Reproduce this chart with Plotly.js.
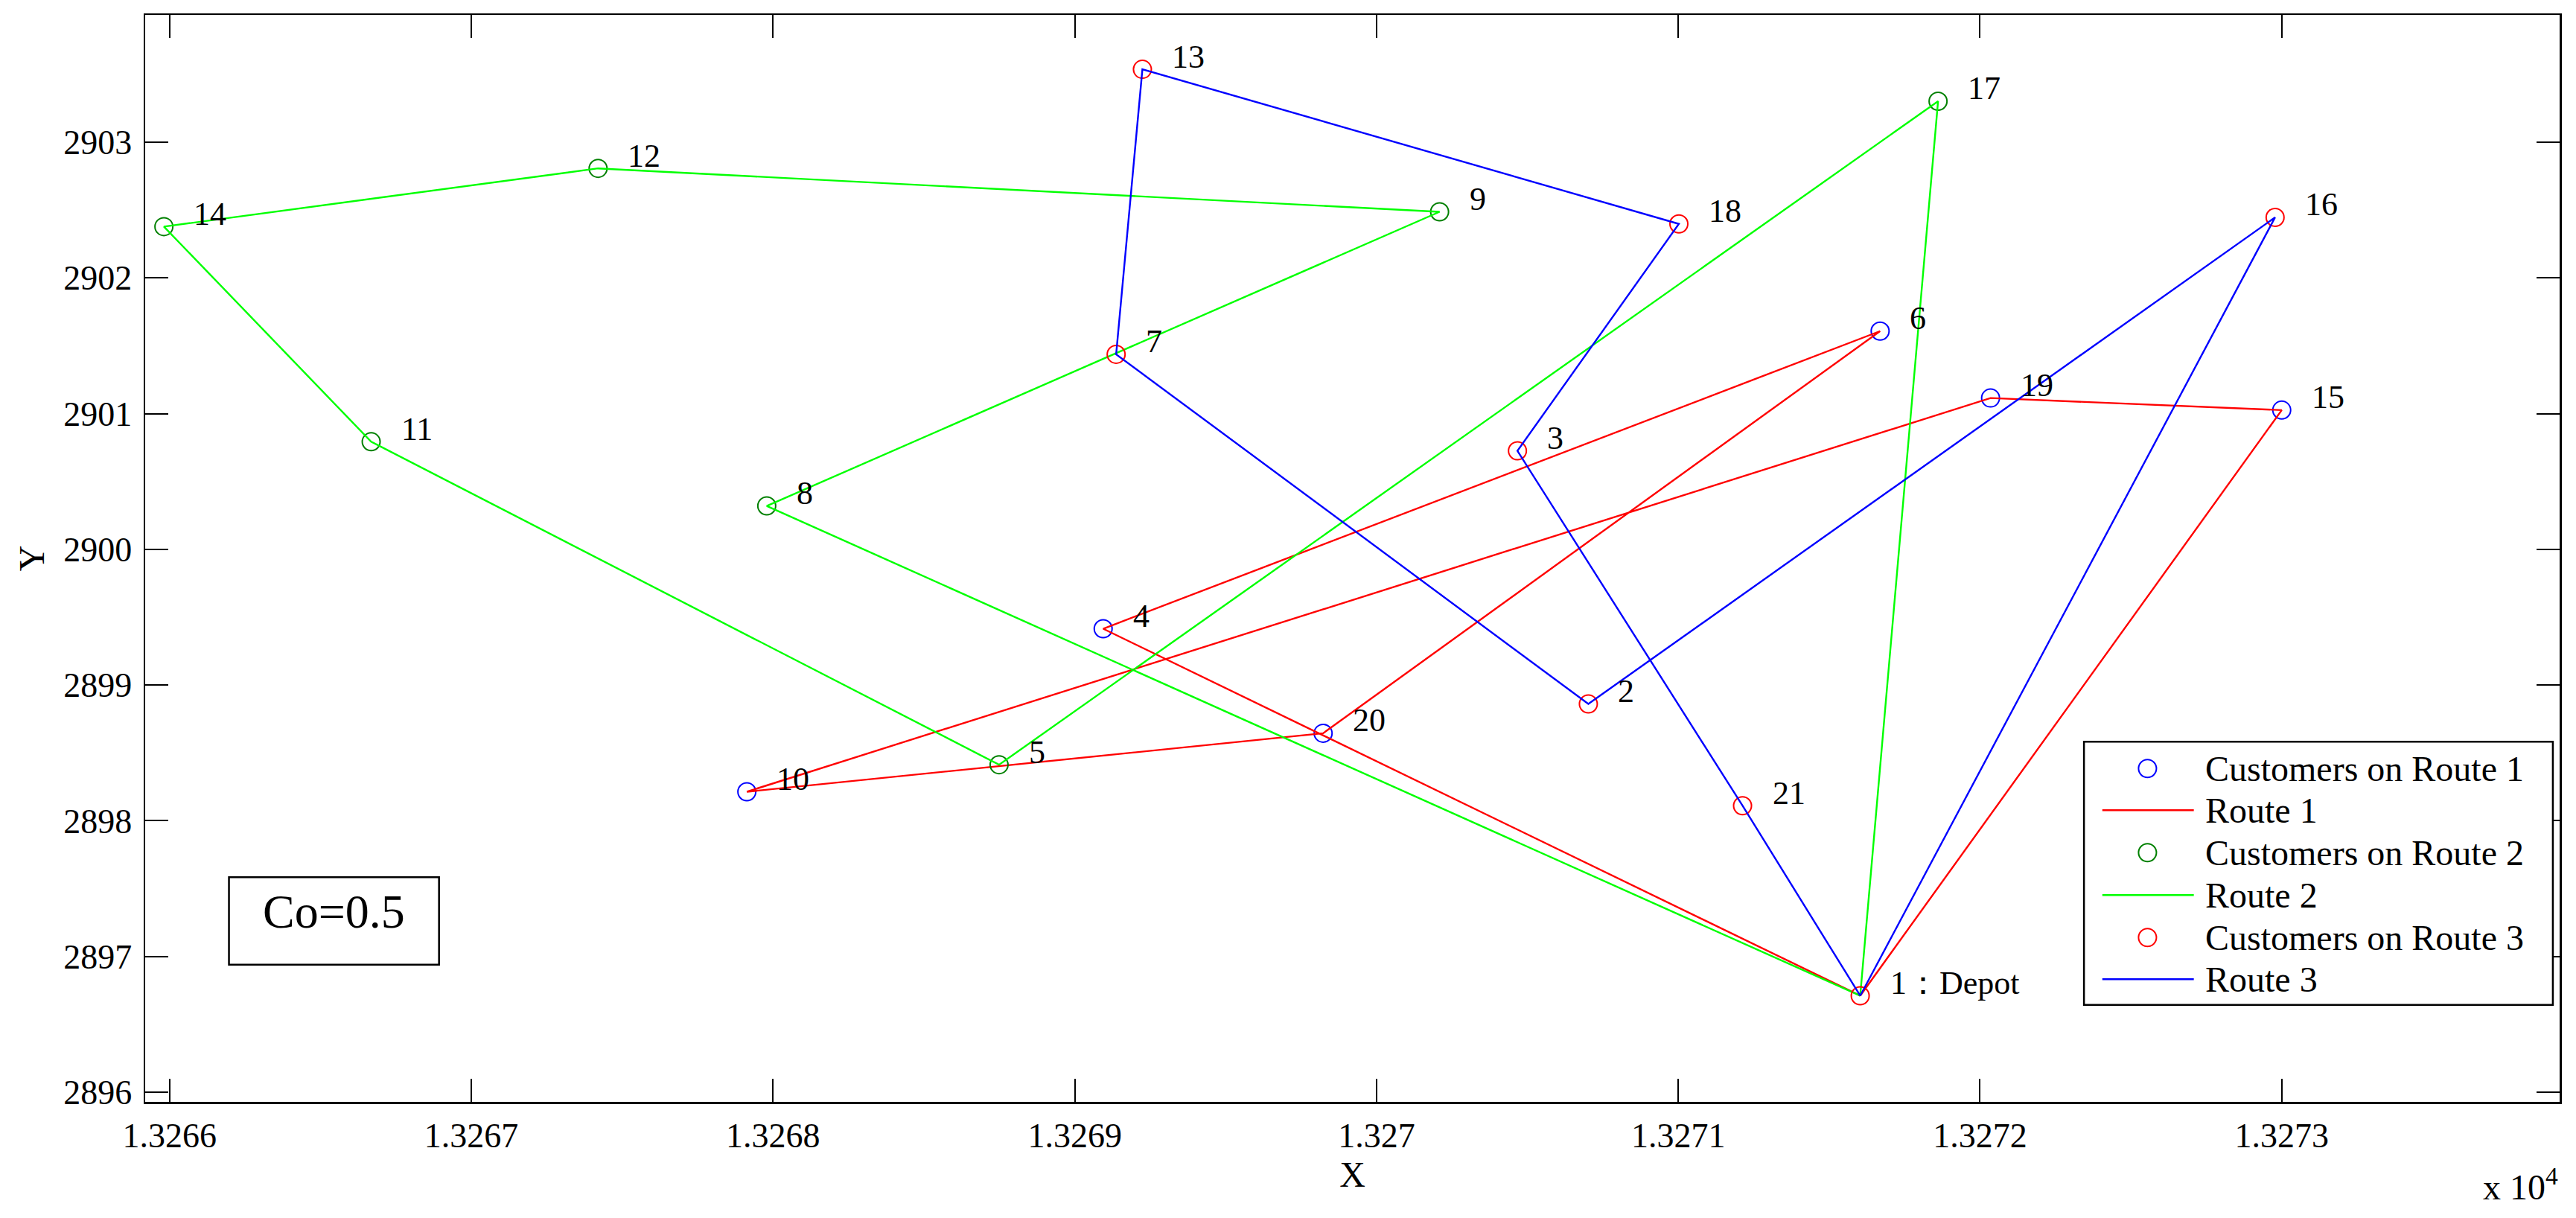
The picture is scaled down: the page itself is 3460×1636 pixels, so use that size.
<!DOCTYPE html>
<html>
<head>
<meta charset="utf-8">
<script src="https://cdn.plot.ly/plotly-3.0.1.min.js"></script>
<style>
  html, body { margin: 0; padding: 0; background: #ffffff; }
  #chart { width: 3460px; height: 1636px; }
</style>
</head>
<body>
<div id="chart"></div>
<script>
// ---------------- data ----------------
const nodeIds = [1, 2, 3, 4, 5, 6, 7, 8, 9, 10, 11, 12, 13, 14, 15, 16, 17, 18, 19, 20, 21];
const nodeX = [13271.603, 13270.702, 13270.467, 13269.094, 13268.749, 13271.669, 13269.137,
               13267.979, 13270.209, 13267.913, 13266.668, 13267.420, 13269.224, 13265.981,
               13273.000, 13272.978, 13271.861, 13271.002, 13272.035, 13269.823, 13271.213];
const nodeY = [2896.711, 2898.861, 2900.726, 2899.415, 2898.413, 2901.608, 2901.437,
               2900.320, 2902.487, 2898.214, 2900.793, 2902.807, 2903.537, 2902.378,
               2901.026, 2902.446, 2903.302, 2902.398, 2901.115, 2898.645, 2898.111];
const nodeLabels = ["1\uFF1ADepot", "2", "3", "4", "5", "6", "7", "8", "9", "10", "11", "12",
                    "13", "14", "15", "16", "17", "18", "19", "20", "21"];

const route1 = [1, 15, 19, 10, 20, 6, 4, 1];
const route2 = [1, 17, 5, 11, 14, 12, 9, 8, 1];
const route3 = [1, 21, 3, 18, 13, 7, 2, 16, 1];

const customers1 = [15, 19, 10, 20, 6, 4];
const customers2 = [17, 5, 11, 14, 12, 9, 8];
const customers3 = [1, 21, 3, 18, 13, 7, 2, 16];

const legendNames = ["Customers on Route 1", "Route 1", "Customers on Route 2",
                     "Route 2", "Customers on Route 3", "Route 3"];

const xTickVals = [13266, 13267, 13268, 13269, 13270, 13271, 13272, 13273];
const xTickText = ["1.3266", "1.3267", "1.3268", "1.3269", "1.327", "1.3271", "1.3272", "1.3273"];
const yTickVals = [2896, 2897, 2898, 2899, 2900, 2901, 2902, 2903];
const yTickText = ["2896", "2897", "2898", "2899", "2900", "2901", "2902", "2903"];

const coText = "Co=0.5";

// ---------------- styles ----------------
const FONT = "Liberation Serif, Times New Roman, serif";
const C_BLUE = "#0000ff", C_RED = "#ff0000", C_GREEN_LINE = "#00ff00", C_GREEN_MK = "#008000";

function px(ids) { return ids.map(i => nodeX[nodeIds.indexOf(i)]); }
function py(ids) { return ids.map(i => nodeY[nodeIds.indexOf(i)]); }

function markerTrace(ids, color, name) {
  return { type: "scatter", mode: "markers", x: px(ids), y: py(ids), name: name,
           showlegend: false, hoverinfo: "skip",
           marker: { symbol: "circle-open", size: 24, color: color, line: { width: 2, color: color } } };
}
function lineTrace(ids, color, name) {
  return { type: "scatter", mode: "lines", x: px(ids), y: py(ids), name: name,
           showlegend: false, hoverinfo: "skip",
           line: { color: color, width: 2.4 } };
}

const traces = [
  markerTrace(customers1, C_BLUE, legendNames[0]),
  lineTrace(route1, C_RED, legendNames[1]),
  markerTrace(customers2, C_GREEN_MK, legendNames[2]),
  lineTrace(route2, C_GREEN_LINE, legendNames[3]),
  markerTrace(customers3, C_RED, legendNames[4]),
  lineTrace(route3, C_BLUE, legendNames[5])
];

// node labels
const annotations = nodeIds.map((id, i) => ({
  x: nodeX[i], y: nodeY[i], xref: "x", yref: "y", text: nodeLabels[i],
  showarrow: false, xanchor: "left", yanchor: "middle", xshift: 38, yshift: 17,
  font: { family: FONT, size: 44, color: "#000" }
}));

// custom legend (MATLAB style)
const legRows = [0.3067, 0.2684, 0.2293, 0.1903, 0.1512, 0.1128];
const legKinds = ["marker", "line", "marker", "line", "marker", "line"];
const legColors = [C_BLUE, C_RED, C_GREEN_MK, C_GREEN_LINE, C_RED, C_BLUE];
const shapes = [
  { type: "rect", xref: "paper", yref: "paper", x0: 0.8030, x1: 0.9972, y0: 0.0892, y1: 0.3314,
    line: { color: "#000", width: 2.5 }, fillcolor: "#ffffff", layer: "above" },
  { type: "rect", xref: "paper", yref: "paper", x0: 0.0347, x1: 0.1217, y0: 0.1262, y1: 0.2067,
    line: { color: "#000", width: 2.5 }, fillcolor: "rgba(0,0,0,0)", layer: "above" }
];
for (let k = 0; k < legendNames.length; k++) {
  if (legKinds[k] === "line") {
    shapes.push({ type: "line", xref: "paper", yref: "paper", x0: 0.8106, x1: 0.8485,
                  y0: legRows[k], y1: legRows[k], line: { color: legColors[k], width: 2.5 }, layer: "above" });
  } else {
    shapes.push({ type: "circle", xref: "paper", yref: "paper", xsizemode: "pixel", ysizemode: "pixel",
                  xanchor: 0.8293, yanchor: legRows[k], x0: -12, x1: 12, y0: -12, y1: 12,
                  line: { color: legColors[k], width: 2 }, layer: "above" });
  }
  annotations.push({ x: 0.8525, y: legRows[k], xref: "paper", yref: "paper", text: legendNames[k],
                     showarrow: false, xanchor: "left", yanchor: "middle",
                     font: { family: FONT, size: 48, color: "#000" } });
}

annotations.push({ x: 0.0782, y: 0.1752, xref: "paper", yref: "paper", text: coText,
                   showarrow: false, xanchor: "center", yanchor: "middle",
                   font: { family: FONT, size: 64, color: "#000" } });
annotations.push({ x: 1.0, y: -0.0757, xref: "paper", yref: "paper", text: "x 10<sup>4</sup>",
                   showarrow: false, xanchor: "right", yanchor: "middle",
                   font: { family: FONT, size: 48, color: "#000" } });

const axisCommon = {
  showgrid: false, zeroline: false, showline: true, linecolor: "#000", linewidth: 2.5,
  mirror: "ticks", ticks: "inside", ticklen: 31, tickwidth: 2, tickcolor: "#000",
  tickfont: { family: FONT, size: 46, color: "#000" }, automargin: false
};

const layout = {
  width: 3460, height: 1636,
  margin: { l: 195, r: 22, t: 20, b: 156, pad: 0 },
  paper_bgcolor: "#ffffff", plot_bgcolor: "#ffffff",
  showlegend: false,
  font: { family: FONT, color: "#000" },
  xaxis: Object.assign({}, axisCommon, {
    range: [13265.919, 13273.921], tickmode: "array", tickvals: xTickVals, ticktext: xTickText,
    ticklabelstandoff: 3,
    title: { text: "X", font: { family: FONT, size: 48, color: "#000" }, standoff: 0 }
  }),
  yaxis: Object.assign({}, axisCommon, {
    range: [2895.929, 2903.938], tickmode: "array", tickvals: yTickVals, ticktext: yTickText,
    ticklabelstandoff: 6,
    title: { text: "Y", font: { family: FONT, size: 48, color: "#000" }, standoff: 11 }
  }),
  shapes: shapes,
  annotations: annotations
};

Plotly.newPlot("chart", traces, layout, { staticPlot: true, displayModeBar: false });
</script>
</body>
</html>
